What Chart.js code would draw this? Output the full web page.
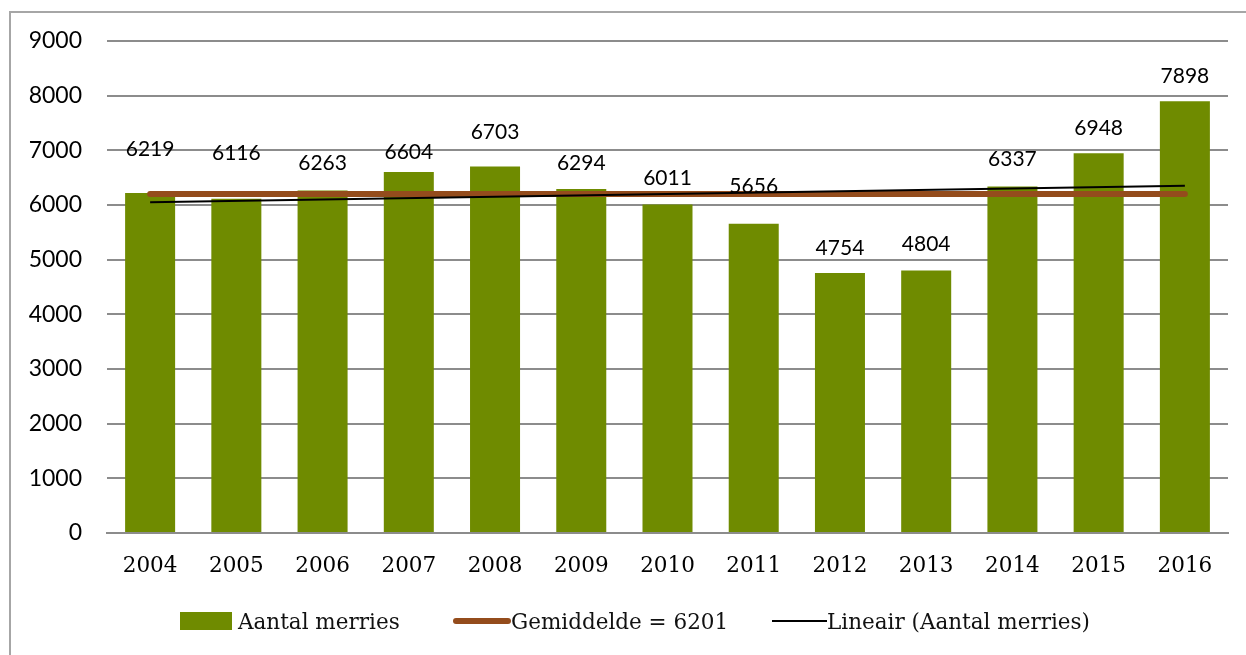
<!DOCTYPE html>
<html>
<head>
<meta charset="utf-8">
<script src="https://cdn.jsdelivr.net/npm/chart.js@4"></script>
<style>
    html, body { margin: 0; padding: 0; background: #fff; }
    #wrap { position: relative; width: 1246px; height: 655px; overflow: hidden; }
    #frame { position: absolute; left: 9px; top: 11px; width: 1300px; height: 700px;
        border-left: 2px solid #a6a6a6; border-top: 2px solid #a6a6a6; }
    #chart { position: absolute; left: 0; top: 0; }
    .leg { position: absolute; top: 606px; height: 30px; display: flex; align-items: center;
        font-family: 'DejaVu Serif', serif; font-size: 21.5px; color: #111; white-space: nowrap; }
    .leg .box { width: 52px; height: 18px; background: #6f8b00; margin-right: 6px; }
    .leg .brown { width: 58px; height: 6px; border-radius: 3px; background: #944c1c; }
    .leg .thin { width: 55px; height: 2px; background: #000; }
</style>
</head>
<body>
<div id="wrap">
    <div id="frame"></div>
    <canvas id="chart" width="1246" height="655"></canvas>
    <div class="leg" style="left:180px"><div class="box"></div>Aantal merries</div>
    <div class="leg" style="left:453px"><div class="brown"></div>Gemiddelde = 6201</div>
    <div class="leg" style="left:772px"><div class="thin"></div>Lineair (Aantal merries)</div>
</div>
<script>
// data
const years = ['2004', '2005', '2006', '2007', '2008', '2009', '2010', '2011', '2012', '2013', '2014', '2015', '2016'];
const merries = [6219, 6116, 6263, 6604, 6703, 6294, 6011, 5656, 4754, 4804, 6337, 6948, 7898];
const average = [6201, 6201, 6201, 6201, 6201, 6201, 6201, 6201, 6201, 6201, 6201, 6201, 6201];
const trend = [6050, null, null, null, null, null, null, null, null, null, null, null, 6350];
const yTicks = [0, 1000, 2000, 3000, 4000, 5000, 6000, 7000, 8000, 9000];

// how far each value label sits above its bar (Excel labels were moved by hand)
const labelLift = [44, 45, 27, 20, 34, 26, 26, 38, 25, 26, 27, 25, 25];

const barLabels = {
    id: 'barLabels',
    afterDatasetsDraw(chart) {
        const ctx = chart.ctx;
        const meta = chart.getDatasetMeta(0);
        ctx.save();
        ctx.font = '21px Lato';
        ctx.fillStyle = '#000';
        ctx.textAlign = 'center';
        ctx.textBaseline = 'middle';
        meta.data.forEach((bar, i) => {
            ctx.fillText(String(merries[i]), bar.x, bar.y - labelLift[i]);
        });
        ctx.restore();
    }
};

new Chart(document.getElementById('chart'), {
    data: {
        labels: years,
        datasets: [
            {
                type: 'bar', label: 'Aantal merries', data: merries, order: 3,
                backgroundColor: '#6f8b00', barPercentage: 0.58, categoryPercentage: 1
            },
            {
                type: 'line', label: 'Gemiddelde = 6201', data: average, order: 2,
                borderColor: '#944c1c', borderWidth: 6, borderCapStyle: 'round',
                pointRadius: 0, tension: 0
            },
            {
                type: 'line', label: 'Lineair (Aantal merries)', data: trend, order: 1,
                borderColor: '#000', borderWidth: 2, spanGaps: true,
                pointRadius: 0, tension: 0
            }
        ]
    },
    options: {
        responsive: false,
        animation: false,
        layout: { padding: { left: 0, top: 41, right: 18, bottom: 0 } },
        plugins: { legend: { display: false }, tooltip: { enabled: false } },
        scales: {
            x: {
                grid: { display: false, drawTicks: false },
                border: { display: true, color: '#8c8c8c', width: 2 },
                ticks: { font: { family: 'DejaVu Serif', size: 21.5 }, color: '#000', padding: 21 },
                afterFit: s => { s.height = 655 - 533; }
            },
            y: {
                min: 0, max: 9000,
                afterBuildTicks: s => { s.ticks = yTicks.map(v => ({ value: v })); },
                grid: { color: '#8c8c8c', lineWidth: 2, drawTicks: false },
                border: { display: false },
                ticks: { font: { family: 'Lato', size: 23 }, color: '#000', padding: 25,
                    callback: v => String(v) },
                afterFit: s => { s.width = 107; }
            }
        }
    },
    plugins: [barLabels]
});
</script>
</body>
</html>
